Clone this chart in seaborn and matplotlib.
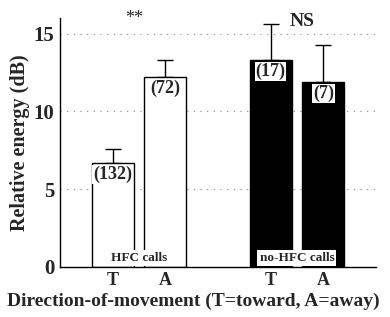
import numpy as np
import pandas as pd
import seaborn as sns
import matplotlib
matplotlib.use("Agg")
import matplotlib.pyplot as plt

groups = ["HFC", "HFC", "no-HFC", "no-HFC"]
direction = ["T", "A", "T", "A"]
positions = [0, 1, 3, 4]
means = [6.7, 12.2, 13.3, 11.9]
errs = [0.85, 1.1, 2.3, 2.4]
counts = ["(132)", "(72)", "(17)", "(7)"]

df = pd.DataFrame({"group": groups, "dir": direction, "pos": positions, "mean": means})

sns.set_style("white")
plt.rcParams["font.family"] = ["Liberation Serif", "DejaVu Serif"]

fig = plt.figure(figsize=(3.9, 3.17), dpi=100)
ax = fig.add_axes([0.154, 0.158, 0.81, 0.785])

sns.barplot(data=df, x="pos", y="mean", hue="group", native_scale=True,
            palette={"HFC": "white", "no-HFC": "black"}, edgecolor="black",
            linewidth=1, width=0.8, dodge=False, legend=False, ax=ax, zorder=2)
ax.errorbar(positions, means, yerr=[np.zeros(len(errs)), errs], fmt="none",
            ecolor="black", elinewidth=1, capsize=5.5, capthick=1, zorder=1)

for p, m, c in zip(positions, means, counts):
    ax.text(p, m - 0.75, c, ha="center", va="center", fontsize=13, fontweight="bold",
            bbox=dict(facecolor="white", edgecolor="none", pad=0.5), zorder=5)

ax.text(0.5, 0.55, "HFC calls", ha="center", va="center", fontsize=9.5, fontweight="bold",
        bbox=dict(facecolor="white", edgecolor="none", pad=1.5), zorder=5)
ax.text(3.5, 0.55, "no-HFC calls", ha="center", va="center", fontsize=9.5, fontweight="bold",
        bbox=dict(facecolor="white", edgecolor="none", pad=1.5), zorder=5)
ax.text(0.4, 16.0, "**", ha="center", va="center", fontsize=13)
ax.text(3.6, 15.8, "NS", ha="center", va="center", fontsize=14, fontweight="bold")

ax.set_xlim(-1, 5)
ax.set_ylim(0, 16)
ax.set_yticks([0, 5, 10, 15])
ax.set_xticks(positions)
ax.set_xticklabels(direction)
for lab in ax.get_xticklabels():
    lab.set_fontweight("bold")
    lab.set_fontsize(13)
for lab in ax.get_yticklabels():
    lab.set_fontweight("bold")
    lab.set_fontsize(15)
ax.tick_params(length=0, pad=4)
for y in [5, 10, 15]:
    ax.axhline(y, color="gray", linestyle=(0, (1, 5)), linewidth=0.8, zorder=0)
sns.despine(ax=ax)
for s in ["left", "bottom"]:
    ax.spines[s].set_color("black")
    ax.spines[s].set_linewidth(1)
ax.set_xlabel("Direction-of-movement (T=toward, A=away)", fontsize=14, fontweight="bold")
ax.xaxis.set_label_coords(0.422, -0.105)
ax.set_ylabel("Relative energy (dB)", fontsize=14.5, fontweight="bold", labelpad=3)

fig.savefig("out.png", dpi=100)
